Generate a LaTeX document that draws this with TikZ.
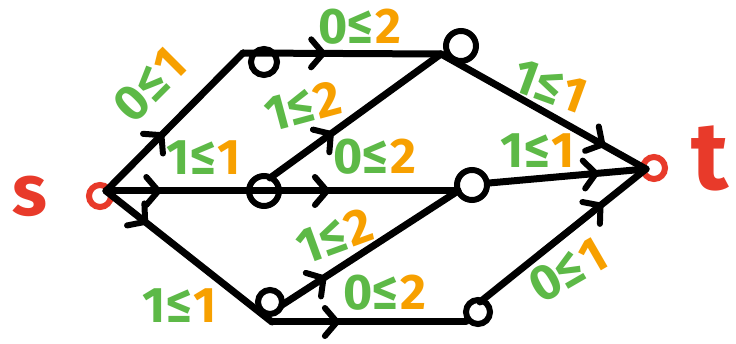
\documentclass[tikz,border=0pt]{standalone}
\usepackage{fontspec}
\setmainfont{Fira Sans}
\usetikzlibrary{arrows.meta,decorations.markings}
\definecolor{lgreen}{HTML}{5DB947}
\definecolor{lorange}{HTML}{F7A000}
\definecolor{lred}{HTML}{E83A2A}
\tikzset{
  edge/.style={line width=7pt, line cap=round, line join=round, postaction={decorate},
    decoration={markings, mark=at position #1 with {\arrow{Straight Barb[round,length=12pt,width=28pt,line width=6pt]}}}},
  vtx/.style={circle, draw, line width=6pt, minimum size=26pt, inner sep=0pt},
  rvtx/.style={vtx, draw=lred, minimum size=22pt},
  lbl/.style={font=\fontsize{50}{50}\selectfont\bfseries, inner sep=0pt},
  big/.style={font=\fontsize{#1}{#1}\selectfont\bfseries, text=lred, inner sep=0pt},
}
\newcommand{\lab}[2]{\textcolor{lgreen}{#1}\kern2pt\textcolor{lorange}{#2}}
\begin{document}
\begin{tikzpicture}[x=1pt,y=-1pt]
\useasboundingbox (0,0) rectangle (736,344);
\fill[white] (0,0) rectangle (736,344);
% vertices
\node[rvtx] (s) at (100,196) {};
\node[vtx] (A) at (264,62) {};
\node[vtx, minimum size=30pt] (B) at (461,46) {};
\node[vtx, minimum size=30pt] (C) at (264,191) {};
\node[vtx, minimum size=30pt] (D) at (472,185) {};
\node[vtx, minimum size=24pt] (E) at (270,302) {};
\node[vtx, minimum size=24pt] (F) at (478,312) {};
\node[rvtx] (t) at (654,168) {};
\node[big=72] (slbl) at (30,196) {s};
\node[big=96] (tlbl) at (710,158) {t};
% junctions
\coordinate (jS) at (106,191);
\coordinate (jA) at (243,53);
\coordinate (jB) at (441,54);
\coordinate (jC) at (270,178);
\coordinate (jD) at (458,191);
\coordinate (jE) at (272,322);
\coordinate (jE2) at (282,305);
\coordinate (jF) at (466,322);
\coordinate (jF2) at (480,302);
\coordinate (jD2) at (489,183);
\coordinate (jT) at (646,169);
% edges
\draw[edge=0.42] (jS) -- (jA);
\draw[edge=0.42] (jA) -- (jB);
\draw[edge=0.35] (jS) -- (C.center);
\draw[edge=0.34] (C.center) -- (jD);
\draw[edge=0.37] (jC) -- (jB);
\draw[edge=0.25] (jS) -- (jE);
\draw[edge=0.25] (jE2) -- (jD);
\draw[edge=0.35] (jE) -- (jF);
\draw[edge=0.8] (jB) -- (jT);
\draw[edge=0.7] (jD2) -- (jT);
\draw[edge=0.74] (jF2) -- (jT);
% labels
\node[lbl, rotate=45] (l1) at (150,85) {\lab{0≤}{1}};
\node[lbl] (l2) at (204,158) {\lab{1≤}{1}};
\node[lbl] (l3) at (180,306) {\lab{1≤}{1}};
\node[lbl] (l4) at (360,27) {\lab{0≤}{2}};
\node[lbl, rotate=15] (l5) at (303,106) {\lab{1≤}{2}};
\node[lbl] (l6) at (375,157) {\lab{0≤}{2}};
\node[lbl, rotate=20] (l7) at (335,236) {\lab{1≤}{2}};
\node[lbl] (l8) at (385,293) {\lab{0≤}{2}};
\node[lbl, rotate=-20] (l9) at (550,86) {\lab{1≤}{1}};
\node[lbl] (l10) at (538,151) {\lab{1≤}{1}};
\node[lbl, rotate=30] (l11) at (568,270) {\lab{0≤}{1}};
\end{tikzpicture}
\end{document}
